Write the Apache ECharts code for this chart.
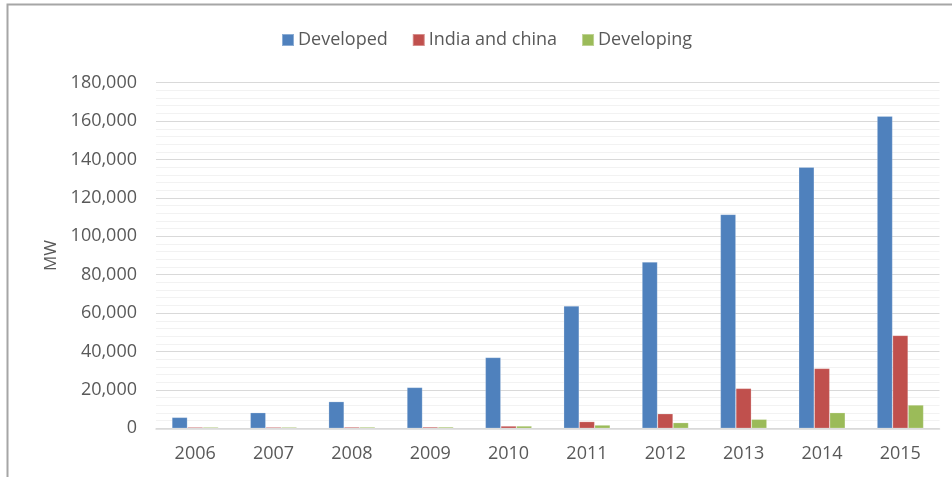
<!DOCTYPE html>
<html>
<head>
<meta charset="utf-8">
<script src="https://cdn.jsdelivr.net/npm/echarts@6/dist/echarts.min.js"></script>
<style>
  html, body { margin: 0; padding: 0; background: #ffffff; }
  #chart { width: 952px; height: 477px; }
</style>
</head>
<body>
<div id="chart"></div>
<script>
// Installed capacity by year and region group (MW)
const years = ['2006', '2007', '2008', '2009', '2010', '2011', '2012', '2013', '2014', '2015'];
const developed = [5700, 8150, 13900, 21300, 36900, 63700, 86600, 111400, 136000, 162600];
const indiaChina = [600, 600, 650, 700, 1200, 3500, 7600, 20800, 31200, 48400];
const developing = [600, 600, 650, 700, 1200, 1700, 2950, 4700, 8150, 12150];
const seriesNames = ['Developed', 'India and china', 'Developing'];
const seriesColors = ['#4F81BD', '#C0504D', '#9BBB59'];
const yTicks = { min: 0, max: 180000, interval: 20000 };

const textColor = '#595959';
const fontFamily = '"Open Sans", "Noto Sans", sans-serif';

const chart = echarts.init(document.getElementById('chart'), null, { renderer: 'canvas' });

function barSeries(name, data, color) {
  return {
    name: name,
    type: 'bar',
    data: data,
    barWidth: 15.5,
    barGap: '0%',
    itemStyle: { color: color, borderColor: 'rgba(255,255,255,0.35)', borderWidth: 0.6 },
    emphasis: { disabled: true }
  };
}

chart.setOption({
  animation: false,
  backgroundColor: '#ffffff',
  textStyle: { fontFamily: fontFamily, color: textColor },
  graphic: [{
    type: 'rect',
    silent: true,
    shape: { x: 7.5, y: 4.5, width: 1000, height: 600 },
    style: { fill: 'none', stroke: '#a6a6a6', lineWidth: 2 }
  }],
  legend: {
    top: 26,
    left: 276,
    itemWidth: 12,
    itemHeight: 12,
    itemGap: 24,
    icon: 'rect',
    textStyle: { fontSize: 18, color: textColor, fontFamily: fontFamily, padding: [0, 0, 0, -1] },
    data: seriesNames
  },
  grid: { left: 156, right: 12.5, top: 82.7, bottom: 48.7, containLabel: false },
  xAxis: {
    type: 'category',
    data: years,
    axisTick: { show: false },
    axisLine: { show: true, lineStyle: { color: '#d9d9d9', width: 1.5 } },
    axisLabel: { color: textColor, fontSize: 18, margin: 17, fontFamily: fontFamily }
  },
  yAxis: {
    type: 'value',
    min: yTicks.min,
    max: yTicks.max,
    interval: yTicks.interval,
    name: 'MW',
    nameLocation: 'middle',
    nameGap: 96,
    nameTextStyle: { color: textColor, fontSize: 17, fontFamily: fontFamily },
    axisLine: { show: false },
    axisTick: { show: false },
    axisLabel: {
      color: textColor,
      fontSize: 18,
      margin: 19,
      fontFamily: fontFamily,
      formatter: function (v) { return v.toLocaleString('en-US'); }
    },
    splitLine: { show: true, lineStyle: { color: '#d9d9d9', width: 1.2 } },
    minorTick: { show: false, splitNumber: 5 },
    minorSplitLine: { show: true, lineStyle: { color: '#f2f2f2', width: 1.2 } }
  },
  series: [
    barSeries(seriesNames[0], developed, seriesColors[0]),
    barSeries(seriesNames[1], indiaChina, seriesColors[1]),
    barSeries(seriesNames[2], developing, seriesColors[2])
  ]
});
</script>
</body>
</html>
